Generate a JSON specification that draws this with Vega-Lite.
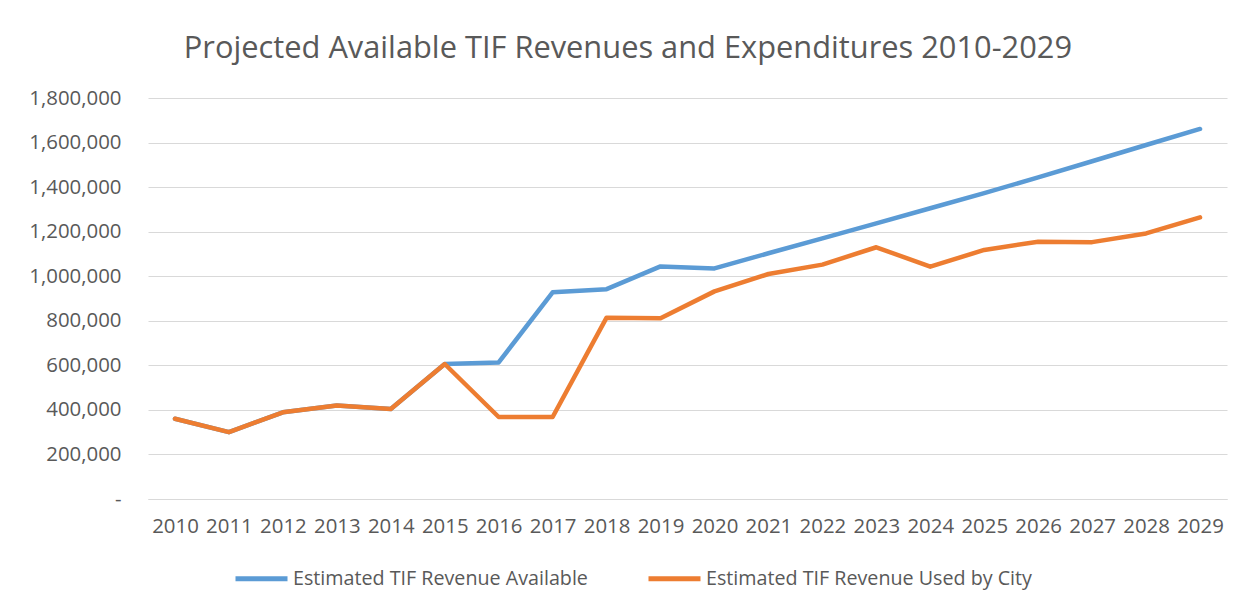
{
  "$schema": "https://vega.github.io/schema/vega-lite/v6.json",
  "width": 1079,
  "height": 401,
  "padding": {"left": 28, "top": 33, "right": 20, "bottom": 5},
  "background": "white",
  "title": {
    "text": "Projected Available TIF Revenues and Expenditures 2010-2029",
    "font": "Open Sans",
    "fontSize": 30.8,
    "fontWeight": "normal",
    "color": "#595959",
    "anchor": "middle",
    "frame": "bounds",
    "offset": 23
  },
  "data": {
    "values": [
      {"year": "2010", "series": "Estimated TIF Revenue Available", "value": 360000},
      {"year": "2011", "series": "Estimated TIF Revenue Available", "value": 300000},
      {"year": "2012", "series": "Estimated TIF Revenue Available", "value": 389000},
      {"year": "2013", "series": "Estimated TIF Revenue Available", "value": 420000},
      {"year": "2014", "series": "Estimated TIF Revenue Available", "value": 404000},
      {"year": "2015", "series": "Estimated TIF Revenue Available", "value": 606000},
      {"year": "2016", "series": "Estimated TIF Revenue Available", "value": 613000},
      {"year": "2017", "series": "Estimated TIF Revenue Available", "value": 928000},
      {"year": "2018", "series": "Estimated TIF Revenue Available", "value": 942000},
      {"year": "2019", "series": "Estimated TIF Revenue Available", "value": 1044000},
      {"year": "2020", "series": "Estimated TIF Revenue Available", "value": 1035000},
      {"year": "2021", "series": "Estimated TIF Revenue Available", "value": 1103000},
      {"year": "2022", "series": "Estimated TIF Revenue Available", "value": 1170000},
      {"year": "2023", "series": "Estimated TIF Revenue Available", "value": 1237000},
      {"year": "2024", "series": "Estimated TIF Revenue Available", "value": 1305000},
      {"year": "2025", "series": "Estimated TIF Revenue Available", "value": 1373000},
      {"year": "2026", "series": "Estimated TIF Revenue Available", "value": 1444000},
      {"year": "2027", "series": "Estimated TIF Revenue Available", "value": 1516000},
      {"year": "2028", "series": "Estimated TIF Revenue Available", "value": 1589000},
      {"year": "2029", "series": "Estimated TIF Revenue Available", "value": 1661000},
      {"year": "2010", "series": "Estimated TIF Revenue Used by City", "value": 360000},
      {"year": "2011", "series": "Estimated TIF Revenue Used by City", "value": 300000},
      {"year": "2012", "series": "Estimated TIF Revenue Used by City", "value": 389000},
      {"year": "2013", "series": "Estimated TIF Revenue Used by City", "value": 420000},
      {"year": "2014", "series": "Estimated TIF Revenue Used by City", "value": 404000},
      {"year": "2015", "series": "Estimated TIF Revenue Used by City", "value": 606000},
      {"year": "2016", "series": "Estimated TIF Revenue Used by City", "value": 368000},
      {"year": "2017", "series": "Estimated TIF Revenue Used by City", "value": 368000},
      {"year": "2018", "series": "Estimated TIF Revenue Used by City", "value": 814000},
      {"year": "2019", "series": "Estimated TIF Revenue Used by City", "value": 811000},
      {"year": "2020", "series": "Estimated TIF Revenue Used by City", "value": 932000},
      {"year": "2021", "series": "Estimated TIF Revenue Used by City", "value": 1010000},
      {"year": "2022", "series": "Estimated TIF Revenue Used by City", "value": 1052000},
      {"year": "2023", "series": "Estimated TIF Revenue Used by City", "value": 1130000},
      {"year": "2024", "series": "Estimated TIF Revenue Used by City", "value": 1043000},
      {"year": "2025", "series": "Estimated TIF Revenue Used by City", "value": 1118000},
      {"year": "2026", "series": "Estimated TIF Revenue Used by City", "value": 1155000},
      {"year": "2027", "series": "Estimated TIF Revenue Used by City", "value": 1153000},
      {"year": "2028", "series": "Estimated TIF Revenue Used by City", "value": 1192000},
      {"year": "2029", "series": "Estimated TIF Revenue Used by City", "value": 1264000}
    ]
  },
  "mark": {"type": "line", "strokeWidth": 4.5, "strokeCap": "round", "strokeJoin": "round"},
  "encoding": {
    "x": {
      "field": "year",
      "type": "ordinal",
      "title": null,
      "scale": {"type": "point", "padding": 0.5},
      "axis": {
        "labelAngle": 0,
        "ticks": false,
        "domain": true,
        "domainColor": "#D9D9D9",
        "domainWidth": 1,
        "labelPadding": 17,
        "labelFont": "Open Sans",
        "labelFontSize": 20.4,
        "labelColor": "#595959"
      }
    },
    "y": {
      "field": "value",
      "type": "quantitative",
      "title": null,
      "scale": {"domain": [0, 1800000], "nice": false},
      "axis": {
        "values": [0, 200000, 400000, 600000, 800000, 1000000, 1200000, 1400000, 1600000, 1800000],
        "labelExpr": "datum.value == 0 ? '-' : format(datum.value, ',')",
        "domain": false,
        "ticks": false,
        "grid": true,
        "gridColor": "#D9D9D9",
        "gridWidth": 1,
        "labelPadding": 27,
        "labelFont": "Open Sans",
        "labelFontSize": 20.4,
        "labelColor": "#595959"
      }
    },
    "color": {
      "field": "series",
      "type": "nominal",
      "scale": {
        "domain": ["Estimated TIF Revenue Available", "Estimated TIF Revenue Used by City"],
        "range": ["#5B9BD5", "#ED7D31"]
      },
      "legend": {
        "title": null,
        "orient": "none",
        "direction": "horizontal",
        "legendX": 85,
        "legendY": 452,
        "symbolType": "stroke",
        "symbolSize": 2704,
        "symbolStrokeWidth": 5,
        "labelOffset": 3,
        "columnPadding": 50,
        "labelFont": "Open Sans",
        "labelFontSize": 19.7,
        "labelColor": "#595959",
        "labelLimit": 500
      }
    }
  },
  "config": {
    "view": {"stroke": null}
  }
}
